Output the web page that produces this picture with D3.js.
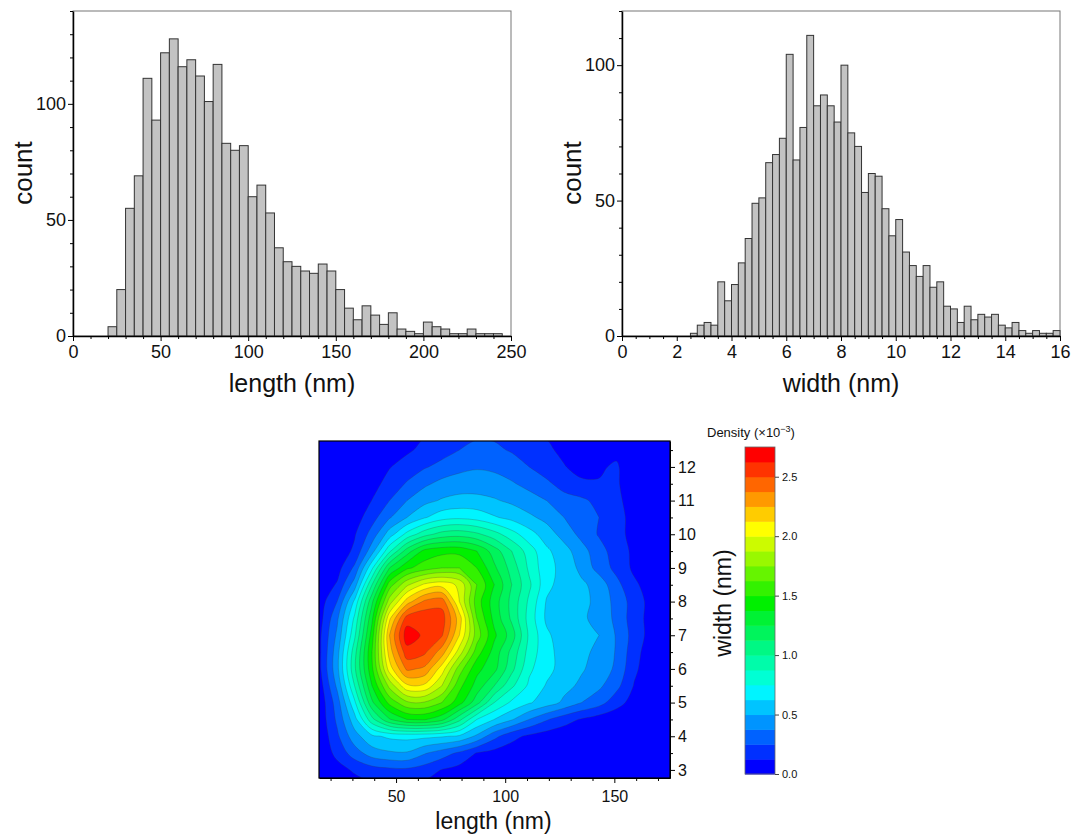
<!DOCTYPE html>
<html><head><meta charset="utf-8">
<script src="https://cdn.jsdelivr.net/npm/d3@7"></script>
<style>
body{margin:0;background:#fff;}
text{font-family:"Liberation Sans",Arial,Helvetica,sans-serif;fill:#111;}
</style>
</head><body>
<svg id="chart" width="1073" height="834"></svg>
<script>
// ---------------- DATA ----------------
const lengthBins = [20,25,30,35,40,45,50,55,60,65,70,75,80,85,90,95,100,105,110,115,120,125,130,135,140,145,150,155,160,165,170,175,180,185,190,195,200,205,210,215,220,225,230,235,240];
const lengthCounts = [4,20,55,69,111,93,122,128,116,119,112,101,117,83,80,82,60,65,53,38,32,30,28,27,31,28,20,12,7,13,9,5,10,3,2,1,6,4,3,1,1,3,1,1,1];
const lengthBinWidth = 5;
const lengthTicks = [0,50,100,150,200,250];
const lengthMinorTicks = [10,20,30,40,60,70,80,90,110,120,130,140,160,170,180,190,210,220,230,240];
const lengthCountTicks = [0,50,100];
const lengthCountMinor = [10,20,30,40,60,70,80,90,110,120,130,140];

const widthBins = [2.5,2.75,3,3.25,3.5,3.75,4,4.25,4.5,4.75,5,5.25,5.5,5.75,6,6.25,6.5,6.75,7,7.25,7.5,7.75,8,8.25,8.5,8.75,9,9.25,9.5,9.75,10,10.25,10.5,10.75,11,11.25,11.5,11.75,12,12.25,12.5,12.75,13,13.25,13.5,13.75,14,14.25,14.5,14.75,15,15.25,15.5,15.75];
const widthCounts = [1,4,5,4,20,13,19,27,36,49,51,64,67,73,104,65,77,111,85,89,85,79,100,75,70,53,60,59,47,37,43,31,26,22,26,18,20,11,10,5,11,6,8,7,8,4,3,5,2,1,2,1,1,2];
const widthBinWidth = 0.25;
const widthTicks = [0,2,4,6,8,10,12,14,16];
const widthMinorTicks = [0.5,1,1.5,2.5,3,3.5,4.5,5,5.5,6.5,7,7.5,8.5,9,9.5,10.5,11,11.5,12.5,13,13.5,14.5,15,15.5];
const widthCountTicks = [0,50,100];
const widthCountMinor = [10,20,30,40,60,70,80,90,110,120];

// 2D density (x10^-3) on a length (columns) x width (rows) grid
const gridLength = [7,15,23,31,39,47,55,63,71,79,87,95,103,111,119,127,135,143,151,159,167,175,183];
const gridWidth = [2.5,3,3.5,4,4.5,5,5.5,6,6.5,7,7.5,8,8.5,9,9.5,10,10.5,11,11.5,12,12.5,13];
const densityRows = [
 [0,0,0.025,0.063,0.1,0.113,0.113,0.088,0.05,0.038,0.025,0.013,0.006,0,0,0,0,0,0,0,0,0,0],
 [0,0.013,0.075,0.144,0.194,0.219,0.225,0.188,0.119,0.081,0.056,0.038,0.025,0.013,0.006,0,0,0,0,0,0,0,0],
 [0,0.025,0.163,0.313,0.438,0.481,0.488,0.388,0.313,0.225,0.119,0.081,0.056,0.038,0.019,0.013,0.006,0,0,0,0,0,0],
 [0,0.025,0.225,0.45,0.6,0.65,0.663,0.656,0.638,0.606,0.475,0.288,0.163,0.1,0.063,0.044,0.025,0.013,0.006,0,0,0,0],
 [0,0.038,0.275,0.575,0.963,1.238,1.375,1.388,1.288,1.038,0.75,0.625,0.513,0.375,0.263,0.175,0.113,0.063,0.038,0.013,0,0,0],
 [0,0.038,0.313,0.725,1.225,1.538,1.725,1.738,1.625,1.425,1.175,0.875,0.725,0.638,0.563,0.475,0.375,0.3,0.175,0.075,0.019,0,0],
 [0.013,0.063,0.4,0.875,1.375,1.788,2.1,2.1,1.875,1.538,1.325,1.125,0.9,0.725,0.613,0.538,0.475,0.4,0.288,0.119,0.025,0,0],
 [0.025,0.1,0.463,0.975,1.475,2.063,2.4,2.35,2.063,1.688,1.413,1.288,1.038,0.775,0.663,0.575,0.513,0.45,0.35,0.15,0.05,0.006,0],
 [0.025,0.1,0.45,0.95,1.5,2.188,2.575,2.525,2.313,1.938,1.563,1.325,1.088,0.825,0.663,0.575,0.525,0.475,0.363,0.175,0.05,0.006,0],
 [0.025,0.1,0.4,0.85,1.438,2.25,2.7,2.6,2.513,2.125,1.688,1.4,1.188,0.85,0.65,0.55,0.538,0.5,0.363,0.2,0.075,0.013,0],
 [0.013,0.075,0.35,0.775,1.35,2.1,2.563,2.6,2.563,2.188,1.625,1.338,1.1,0.825,0.6,0.531,0.513,0.475,0.338,0.188,0.075,0.025,0],
 [0.013,0.063,0.25,0.65,1.225,1.813,2.188,2.4,2.45,2.0,1.563,1.313,1.088,0.85,0.613,0.55,0.525,0.475,0.325,0.2,0.075,0.025,0],
 [0,0.038,0.138,0.438,1.0,1.563,1.85,2.025,2.075,1.975,1.625,1.375,1.125,0.9,0.663,0.563,0.525,0.45,0.288,0.15,0.063,0.019,0],
 [0,0.013,0.075,0.275,0.725,1.25,1.475,1.563,1.625,1.625,1.5,1.275,1.075,0.85,0.663,0.588,0.463,0.325,0.213,0.1,0.038,0.006,0],
 [0,0.006,0.038,0.15,0.45,0.85,1.188,1.413,1.463,1.463,1.375,1.188,1.0,0.813,0.65,0.55,0.425,0.3,0.188,0.1,0.038,0.006,0],
 [0,0,0.019,0.113,0.3,0.563,0.788,0.95,1.05,1.075,1.025,0.925,0.8,0.675,0.563,0.45,0.338,0.238,0.163,0.088,0.031,0.006,0],
 [0,0,0.006,0.063,0.2,0.363,0.5,0.613,0.7,0.725,0.7,0.638,0.588,0.525,0.463,0.375,0.313,0.25,0.163,0.088,0.031,0.006,0],
 [0,0,0,0.038,0.128,0.25,0.375,0.463,0.513,0.538,0.538,0.513,0.475,0.425,0.375,0.3,0.275,0.213,0.15,0.075,0.025,0,0],
 [0,0,0,0.013,0.081,0.169,0.263,0.35,0.413,0.438,0.438,0.425,0.388,0.338,0.275,0.2,0.144,0.131,0.138,0.063,0.019,0,0],
 [0,0,0,0,0.038,0.119,0.175,0.238,0.288,0.338,0.363,0.35,0.313,0.25,0.188,0.131,0.088,0.113,0.138,0.05,0.013,0,0],
 [0,0,0,0,0.013,0.05,0.106,0.156,0.2,0.25,0.288,0.275,0.238,0.188,0.144,0.1,0.063,0.075,0.1,0.038,0.013,0,0],
 [0,0,0,0,0,0.025,0.05,0.113,0.125,0.175,0.225,0.225,0.175,0.113,0.113,0.05,0.038,0.038,0.063,0.025,0,0,0]
];
const densityLevels = [0,0.125,0.25,0.375,0.5,0.625,0.75,0.875,1,1.125,1.25,1.375,1.5,1.625,1.75,1.875,2,2.125,2.25,2.375,2.5,2.625,2.75];
const densityTicks = [0,0.5,1,1.5,2,2.5];
const contourLengthTicks = [50,100,150];
const contourLengthMinor = [20,30,40,60,70,80,90,110,120,130,140,160,170];
const contourWidthTicks = [3,4,5,6,7,8,9,10,11,12];
const contourWidthMinor = [3.5,4.5,5.5,6.5,7.5,8.5,9.5,10.5,11.5,12.5];

// ---------------- STYLE ----------------
const bandColors = ["#0000ff","#0030ff","#0062ff","#0094ff","#00c4ff","#00f4ff","#00ffd4","#00fcaa","#00f884","#00f45c","#00f234","#00f000","#33f200","#66f400","#99f800","#ccfb00","#ffff00","#ffcc00","#ff9900","#ff6600","#ff3300","#ff0000"];

const svg = d3.select("#chart");

function drawHistogram(o) {
  const x = d3.scaleLinear().domain(o.xDomain).range([o.left, o.right]);
  const y = d3.scaleLinear().domain(o.yDomain).range([o.bottom, o.top]);
  const g = svg.append("g");
  g.append("rect").attr("x", o.left).attr("y", o.top)
    .attr("width", o.right - o.left).attr("height", o.bottom - o.top)
    .attr("fill", "none").attr("stroke", "#777").attr("stroke-width", 1);
  g.selectAll("rect.bar").data(o.bins).join("rect").attr("class", "bar")
    .attr("x", d => x(d)).attr("width", d => x(d + o.binWidth) - x(d))
    .attr("y", (d, i) => y(o.counts[i])).attr("height", (d, i) => y(0) - y(o.counts[i]))
    .attr("fill", "#c3c3c3").attr("stroke", "#333").attr("stroke-width", 1);
  const xa = g.append("g").attr("transform", `translate(0,${o.bottom})`)
    .call(d3.axisBottom(x).tickValues(o.xTicks).tickSize(5).tickSizeOuter(0).tickPadding(4).tickFormat(d3.format("d")));
  g.append("g").attr("transform", `translate(0,${o.bottom})`)
    .call(d3.axisBottom(x).tickValues(o.xMinor).tickSize(3).tickSizeOuter(0).tickFormat(""))
    .select(".domain").remove();
  const ya = g.append("g").attr("transform", `translate(${o.left},0)`)
    .call(d3.axisLeft(y).tickValues(o.yTicks).tickSize(5).tickSizeOuter(0).tickPadding(2));
  g.append("g").attr("transform", `translate(${o.left},0)`)
    .call(d3.axisLeft(y).tickValues(o.yMinor).tickSize(3).tickSizeOuter(0).tickFormat(""))
    .select(".domain").remove();
  [xa, ya].forEach(a => {
    a.select(".domain").attr("stroke", "#000").attr("stroke-width", 1.5);
    a.selectAll("text").style("font-size", "18px").attr("fill", "#111");
  });
  g.selectAll(".tick line").attr("stroke", "#000");
  g.append("text").attr("x", (o.left + o.right) / 2).attr("y", 392)
    .attr("text-anchor", "middle").style("font-size", "25px").text(o.xLabel);
  g.append("text").attr("transform", `translate(${o.left - 41},173) rotate(-90)`)
    .attr("text-anchor", "middle").style("font-size", "26px").text("count");
}

drawHistogram({left: 73, right: 511, top: 11, bottom: 336, xDomain: [0, 250], yDomain: [0, 140],
  bins: lengthBins, counts: lengthCounts, binWidth: lengthBinWidth,
  xTicks: lengthTicks, xMinor: lengthMinorTicks, yTicks: lengthCountTicks, yMinor: lengthCountMinor,
  xLabel: "length (nm)"});
drawHistogram({left: 622, right: 1060, top: 11, bottom: 336, xDomain: [0, 16], yDomain: [0, 120],
  bins: widthBins, counts: widthCounts, binWidth: widthBinWidth,
  xTicks: widthTicks, xMinor: widthMinorTicks, yTicks: widthCountTicks, yMinor: widthCountMinor,
  xLabel: "width (nm)"});

// ---------------- CONTOUR MAP ----------------
const P = {left: 319, right: 670, top: 441, bottom: 778};
const cx = d3.scaleLinear().domain([14.7, 175.5]).range([P.left, P.right]);
const cy = d3.scaleLinear().domain([2.76, 12.77]).range([P.bottom, P.top]);
const nx = gridLength.length, ny = gridWidth.length;
const dL = gridLength[1] - gridLength[0], dW = gridWidth[1] - gridWidth[0];
const values = densityRows.flat();
const thresholds = densityLevels.slice(1, -1);
const contourSets = d3.contours().size([nx, ny]).thresholds(thresholds)(values);
const toPx = ([gx, gy]) => [cx(gridLength[0] + (gx - 0.5) * dL), cy(gridWidth[0] + (gy - 0.5) * dW)];
const smoothRing = d3.line().curve(d3.curveCatmullRomClosed.alpha(0.5));
const contourPath = mp => mp.coordinates.map(poly => poly.map(ring => smoothRing(ring.slice(0, -1).map(toPx))).join("")).join("");

const defs = svg.append("defs");
defs.append("clipPath").attr("id", "plotClip").append("rect")
  .attr("x", P.left).attr("y", P.top).attr("width", P.right - P.left).attr("height", P.bottom - P.top);
const cg = svg.append("g").attr("clip-path", "url(#plotClip)");
cg.append("rect").attr("x", P.left).attr("y", P.top).attr("width", P.right - P.left).attr("height", P.bottom - P.top)
  .attr("fill", bandColors[0]);
cg.selectAll("path.band").data(contourSets).join("path").attr("class", "band")
  .attr("d", contourPath).attr("fill-rule", "evenodd").attr("fill", (d, i) => bandColors[i + 1])
  .attr("stroke", "#3a3a3a").attr("stroke-opacity", 0.5).attr("stroke-width", 0.5);
svg.append("rect").attr("x", P.left).attr("y", P.top).attr("width", P.right - P.left).attr("height", P.bottom - P.top)
  .attr("fill", "none").attr("stroke", "#000").attr("stroke-width", 1.2);

const cxa = svg.append("g").attr("transform", `translate(0,${P.bottom})`)
  .call(d3.axisBottom(cx).tickValues(contourLengthTicks).tickSize(5).tickSizeOuter(0).tickPadding(8));
svg.append("g").attr("transform", `translate(0,${P.bottom})`)
  .call(d3.axisBottom(cx).tickValues(contourLengthMinor).tickSize(3).tickSizeOuter(0).tickFormat(""))
  .select(".domain").remove();
const cya = svg.append("g").attr("transform", `translate(${P.right},0)`)
  .call(d3.axisRight(cy).tickValues(contourWidthTicks).tickSize(5).tickSizeOuter(0).tickPadding(3));
svg.append("g").attr("transform", `translate(${P.right},0)`)
  .call(d3.axisRight(cy).tickValues(contourWidthMinor).tickSize(3).tickSizeOuter(0).tickFormat(""))
  .select(".domain").remove();
[cxa, cya].forEach(a => {
  a.select(".domain").attr("stroke", "#000");
  a.selectAll("text").style("font-size", "16px").attr("fill", "#111");
});
svg.append("text").attr("x", (P.left + P.right) / 2 - 1).attr("y", 829).attr("text-anchor", "middle")
  .style("font-size", "23px").text("length (nm)");
svg.append("text").attr("transform", `translate(731,603) rotate(-90)`).attr("text-anchor", "middle")
  .style("font-size", "23px").text("width (nm)");

// ---------------- COLOR BAR ----------------
const CB = {left: 745, right: 775, top: 447, bottom: 774};
const cbScale = d3.scaleLinear().domain([0, 2.75]).range([CB.bottom, CB.top]);
const cbBands = densityLevels.slice(0, -1).map((v, i) => ({lo: v, hi: densityLevels[i + 1], c: bandColors[i]}));
svg.append("g").selectAll("rect").data(cbBands).join("rect")
  .attr("x", CB.left).attr("width", CB.right - CB.left)
  .attr("y", d => cbScale(d.hi)).attr("height", d => cbScale(d.lo) - cbScale(d.hi) + 0.5)
  .attr("fill", d => d.c);
svg.append("rect").attr("x", CB.left).attr("y", CB.top).attr("width", CB.right - CB.left).attr("height", CB.bottom - CB.top)
  .attr("fill", "none").attr("stroke", "#666").attr("stroke-width", 0.8);
const cba = svg.append("g").attr("transform", `translate(${CB.right},0)`)
  .call(d3.axisRight(cbScale).tickValues(densityTicks).tickSize(4).tickSizeOuter(0).tickPadding(3).tickFormat(d3.format(".1f")));
cba.select(".domain").remove();
cba.selectAll("line").attr("stroke", "#444");
cba.selectAll("text").style("font-size", "11px").attr("fill", "#333");
const title = svg.append("text").attr("x", 707).attr("y", 437).style("font-size", "13px");
title.append("tspan").text("Density (\u00d710");
title.append("tspan").attr("dy", -5).style("font-size", "9px").text("\u22123");
title.append("tspan").attr("dy", 5).text(")");
</script>
</body></html>
